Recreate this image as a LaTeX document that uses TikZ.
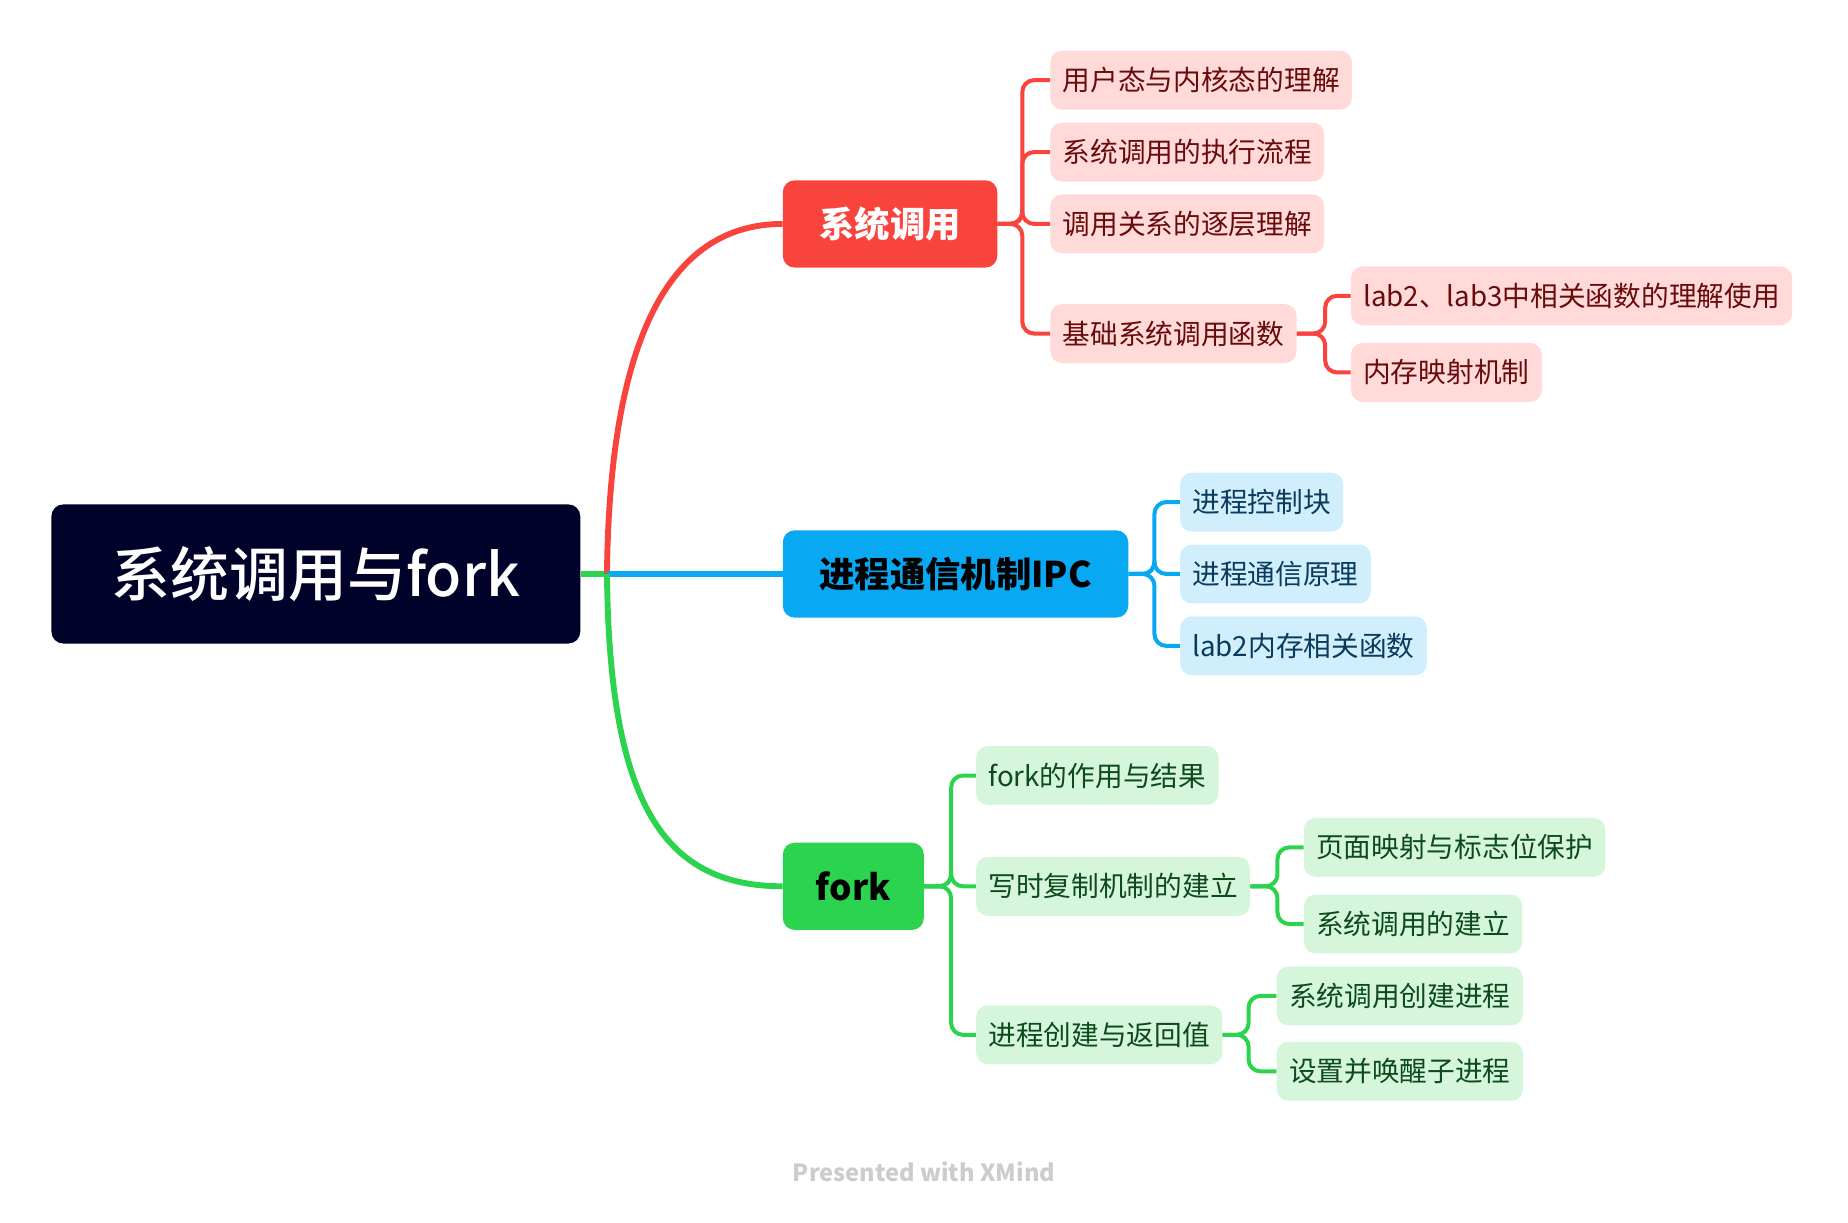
\documentclass[tikz,border=0pt]{standalone}
\usepackage{fontspec}
\setmainfont{Noto Sans CJK SC}
\newfontfamily\medfont{Noto Sans CJK SC Medium}
\definecolor{rootfill}{HTML}{000229}
\definecolor{cred}{HTML}{F9443E}
\definecolor{cblue}{HTML}{08A8F2}
\definecolor{cgreen}{HTML}{2CD34F}
\definecolor{lred}{HTML}{FFDAD9}
\definecolor{lblue}{HTML}{D0EEFC}
\definecolor{lgreen}{HTML}{D6F6DC}
\definecolor{tred}{HTML}{6A0B0B}
\definecolor{tblue}{HTML}{0A3A5C}
\definecolor{tgreen}{HTML}{0D4A1C}
\begin{document}
\begin{tikzpicture}[x=1pt,y=-1pt,
  rootbox/.style={rounded corners=10pt,fill=rootfill,text=white,inner xsep=51pt,minimum height=118pt,font=\medfont\fontsize{50}{60}\selectfont},
  parbox/.style={rounded corners=10pt,inner xsep=31pt,minimum height=74pt,font=\bfseries\fontsize{30}{36}\selectfont,anchor=west},
  kidbox/.style={rounded corners=10pt,inner xsep=10.5pt,minimum height=50pt,font=\fontsize{23.5}{28}\selectfont,anchor=west},
  rkid/.style={kidbox,fill=lred,text=tred},
  bkid/.style={kidbox,fill=lblue,text=tblue},
  gkid/.style={kidbox,fill=lgreen,text=tgreen},
  link/.style={line width=3.4pt,rounded corners=10pt},
  trunk/.style={line width=5pt}]
\useasboundingbox (0,0) rectangle (1568,1037);
% root
\node[rootbox] (root) at (268,487) {系统调用与fork};
\coordinate (jn) at (515,487);
% parents
\node[parbox,fill=cred,text=white] (sys) at (664,190) {系统调用};
\node[parbox,fill=cblue,text=black] (ipc) at (664,487) {进程通信机制IPC};
\node[parbox,fill=cgreen,text=black,inner xsep=28pt] (fk) at (664,752) {fork};
% trunks
\draw[trunk,cgreen] (root.east) -- (jn);
\draw[trunk,cred] (jn) .. controls (517,300) and (562,190) .. (sys.west);
\draw[trunk,cblue] (jn) -- (ipc.west);
\draw[trunk,cgreen] (jn) .. controls (517,680) and (562,752) .. (fk.west);
% red children
\node[rkid] (r1) at (891,68) {用户态与内核态的理解};
\node[rkid] (r2) at (891,129) {系统调用的执行流程};
\node[rkid] (r3) at (891,190) {调用关系的逐层理解};
\node[rkid] (r4) at (891,283) {基础系统调用函数};
\node[rkid] (r41) at (1146,251) {lab2、lab3中相关函数的理解使用};
\node[rkid] (r42) at (1146,316) {内存映射机制};
\foreach \k in {r1,r2,r3,r4} \draw[link,cred] (sys.east) -- ++(21,0) |- (\k.west);
\foreach \k in {r41,r42} \draw[link,cred] (r4.east) -- ++(24,0) |- (\k.west);
% blue children
\node[bkid] (b1) at (1001,426) {进程控制块};
\node[bkid] (b2) at (1001,487) {进程通信原理};
\node[bkid] (b3) at (1001,548) {lab2内存相关函数};
\foreach \k in {b1,b2,b3} \draw[link,cblue] (ipc.east) -- ++(22,0) |- (\k.west);
% green children
\node[gkid] (g1) at (828,658) {fork的作用与结果};
\node[gkid] (g2) at (828,752) {写时复制机制的建立};
\node[gkid] (g3) at (828,878) {进程创建与返回值};
\node[gkid] (g21) at (1106,719) {页面映射与标志位保护};
\node[gkid] (g22) at (1106,784) {系统调用的建立};
\node[gkid] (g31) at (1083,845) {系统调用创建进程};
\node[gkid] (g32) at (1083,909) {设置并唤醒子进程};
\foreach \k in {g1,g2,g3} \draw[link,cgreen] (fk.east) -- ++(23,0) |- (\k.west);
\foreach \k in {g21,g22} \draw[link,cgreen] (g2.east) -- ++(23,0) |- (\k.west);
\foreach \k in {g31,g32} \draw[link,cgreen] (g3.east) -- ++(22,0) |- (\k.west);
% footer
\node[text=black!20,font=\bfseries\fontsize{20}{24}\selectfont] (foot) at (784,994) {Presented with XMind};
\end{tikzpicture}
\end{document}
